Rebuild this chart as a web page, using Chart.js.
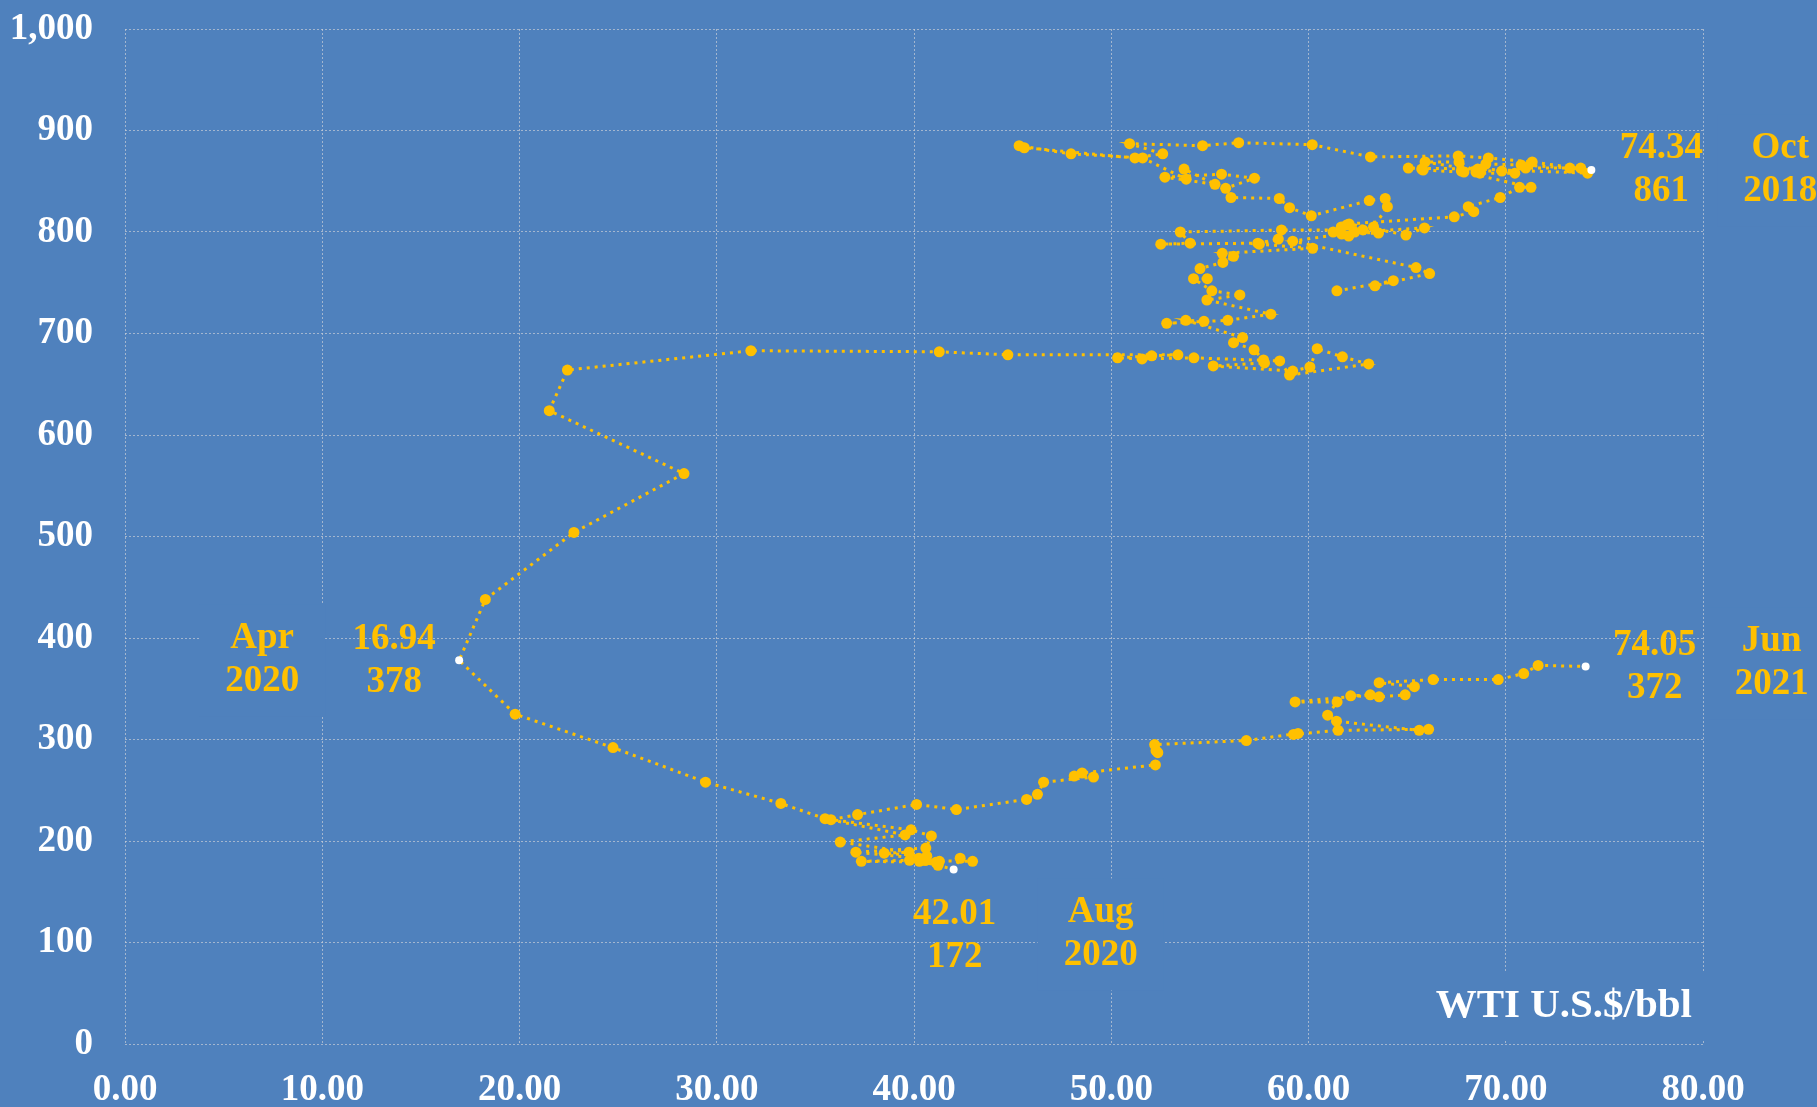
<!DOCTYPE html>
<html>
<head>
<meta charset="utf-8">
<title>US oil rigs vs WTI</title>
<script src="https://cdn.jsdelivr.net/npm/chart.js@4.4.1/dist/chart.umd.min.js"></script>
<style>
  html, body { margin: 0; padding: 0; background: #4F81BD; }
  canvas { display: block; }
</style>
</head>
<body>
<canvas id="chart" width="1817" height="1107"></canvas>
<script>
// weekly Baker Hughes oil rig count vs WTI Friday close, Jan 2018 - Jun 2021
const weeks = [
  '2018-01-05','2018-01-12','2018-01-19','2018-01-26','2018-02-02','2018-02-09','2018-02-16','2018-02-23',
  '2018-03-02','2018-03-09','2018-03-16','2018-03-23','2018-03-29','2018-04-06','2018-04-13','2018-04-20',
  '2018-04-27','2018-05-04','2018-05-11','2018-05-18','2018-05-25','2018-06-01','2018-06-08','2018-06-15',
  '2018-06-22','2018-06-29','2018-07-06','2018-07-13','2018-07-20','2018-07-27','2018-08-03','2018-08-10',
  '2018-08-17','2018-08-24','2018-08-31','2018-09-07','2018-09-14','2018-09-21','2018-09-28','2018-10-05',
  '2018-10-12','2018-10-19','2018-10-26','2018-11-02','2018-11-09','2018-11-16','2018-11-21','2018-11-30',
  '2018-12-07','2018-12-14','2018-12-21','2018-12-28',
  '2019-01-04','2019-01-11','2019-01-18','2019-01-25','2019-02-01','2019-02-08','2019-02-15','2019-02-22',
  '2019-03-01','2019-03-08','2019-03-15','2019-03-22','2019-03-29','2019-04-05','2019-04-12','2019-04-18',
  '2019-04-26','2019-05-03','2019-05-10','2019-05-17','2019-05-24','2019-05-31','2019-06-07','2019-06-14',
  '2019-06-21','2019-06-28','2019-07-05','2019-07-12','2019-07-19','2019-07-26','2019-08-02','2019-08-09',
  '2019-08-16','2019-08-23','2019-08-30','2019-09-06','2019-09-13','2019-09-20','2019-09-27','2019-10-04',
  '2019-10-11','2019-10-18','2019-10-25','2019-11-01','2019-11-08','2019-11-15','2019-11-22','2019-11-29',
  '2019-12-06','2019-12-13','2019-12-20','2019-12-27',
  '2020-01-03','2020-01-10','2020-01-17','2020-01-24','2020-01-31','2020-02-07','2020-02-14','2020-02-21',
  '2020-02-28','2020-03-06','2020-03-13','2020-03-20','2020-03-27','2020-04-03','2020-04-09','2020-04-17',
  '2020-04-24','2020-05-01','2020-05-08','2020-05-15','2020-05-22','2020-05-29','2020-06-05','2020-06-12',
  '2020-06-19','2020-06-26','2020-07-02','2020-07-10','2020-07-17','2020-07-24','2020-07-31','2020-08-07',
  '2020-08-14','2020-08-21','2020-08-28','2020-09-04','2020-09-11','2020-09-18','2020-09-25','2020-10-02',
  '2020-10-09','2020-10-16','2020-10-23','2020-10-30','2020-11-06','2020-11-13','2020-11-20','2020-11-25',
  '2020-12-04','2020-12-11','2020-12-18','2020-12-23','2020-12-31',
  '2021-01-08','2021-01-15','2021-01-22','2021-01-29','2021-02-05','2021-02-12','2021-02-19','2021-02-26',
  '2021-03-05','2021-03-12','2021-03-19','2021-03-26','2021-04-01','2021-04-09','2021-04-16','2021-04-23',
  '2021-04-30','2021-05-07','2021-05-14','2021-05-21','2021-05-28','2021-06-04','2021-06-11','2021-06-18',
  '2021-06-25'
];

const wti = [
  61.44, 64.30, 63.37, 66.14, 65.45, 59.20, 61.68, 63.55,
  61.25, 62.04, 62.34, 65.88, 64.94, 62.06, 67.39, 68.38,
  68.10, 69.72, 70.70, 71.28, 67.88, 65.81, 65.74, 65.06,
  68.58, 74.15, 73.80, 71.01, 70.46, 68.69, 68.49, 67.63,
  65.91, 68.72, 69.80, 67.75, 68.99, 70.78, 73.25, 74.34,
  71.34, 69.12, 67.59, 63.14, 60.19, 56.46, 54.63, 50.93,
  52.61, 51.20, 45.59, 45.33,
  47.96, 51.59, 53.80, 53.69, 55.26, 52.72, 55.59, 57.26,
  55.80, 56.07, 58.52, 59.04, 60.14, 63.08, 63.89, 64.00,
  63.30, 61.94, 61.66, 62.76, 58.63, 53.50, 54.00, 52.51,
  57.43, 58.47, 57.51, 60.21, 55.63, 56.20, 55.66, 54.50,
  54.87, 54.17, 55.10, 56.52, 54.85, 58.09, 55.91, 52.81,
  54.70, 53.78, 56.66, 56.20, 57.24, 57.72, 57.77, 55.17,
  59.20, 60.07, 60.44, 61.72,
  63.05, 59.04, 58.54, 54.19, 51.56, 50.32, 52.05, 53.38,
  44.76, 41.28, 31.73, 22.43, 21.51, 28.34, 22.76, 18.27,
  16.94, 19.78, 24.74, 29.43, 33.25, 35.49, 39.55, 36.26,
  39.75, 38.49, 40.65, 40.55, 40.59, 41.29, 40.27, 41.22,
  42.01, 42.34, 42.97, 39.77, 37.33, 41.11, 40.25, 37.05,
  40.60, 40.88, 39.85, 35.79, 37.14, 40.13, 42.15, 45.71,
  46.26, 46.57, 49.10, 48.12, 48.52,
  52.24, 52.36, 52.27, 52.20, 56.85, 59.47, 59.24, 61.50,
  66.09, 65.61, 61.42, 60.97, 61.45, 59.32, 63.13, 62.14,
  63.58, 64.90, 65.37, 63.58, 66.32, 69.62, 70.91, 71.64,
  74.05
];

const rigs = [
  742, 752, 747, 759, 765, 791, 798, 799,
  800, 796, 800, 804, 797, 808, 815, 820,
  825, 834, 844, 844, 859, 861, 862, 863,
  862, 858, 863, 863, 858, 858, 859, 869,
  869, 860, 860, 860, 867, 866, 863, 861,
  869, 873, 875, 874, 886, 888, 885, 887,
  877, 873, 883, 885,
  877, 873, 852, 862, 847, 854, 857, 853,
  843, 834, 833, 824, 816, 831, 833, 825,
  805, 807, 805, 802, 802, 800, 789, 788,
  789, 793, 788, 784, 779, 776, 770, 764,
  754, 754, 742, 738, 733, 719, 713, 710,
  712, 713, 696, 691, 684, 674, 671, 668,
  663, 667, 685, 677,
  670, 659, 673, 676, 675, 676, 678, 679,
  679, 682, 683, 664, 624, 562, 504, 438,
  378, 325, 292, 258, 237, 222, 206, 199,
  189, 188, 185, 181, 181, 180, 180, 176,
  172, 183, 180, 181, 180, 179, 183, 189,
  193, 205, 211, 221, 226, 236, 231, 241,
  246, 258, 263, 264, 267,
  275, 287, 289, 295, 299, 306, 305, 309,
  310, 309, 318, 324, 337, 337, 344, 343,
  342, 344, 352, 356, 359, 359, 365, 373,
  372
];

// weeks picked out with a white marker and a label
const highlightWeeks = ['2018-10-05', '2020-04-24', '2020-08-14', '2021-06-25'];
const monthNames = ['Jan','Feb','Mar','Apr','May','Jun','Jul','Aug','Sep','Oct','Nov','Dec'];
const axisTitle = 'WTI U.S.$/bbl';

const BG = '#4F81BD';
const GOLD = '#FFC000';
const GRID = 'rgba(200,205,215,0.7)';
const SERIF = "'Liberation Serif', 'Times New Roman', serif";

const points = weeks.map((w, i) => ({ x: wti[i], y: rigs[i] }));
const isHi = weeks.map(w => highlightWeeks.includes(w));

// label offsets from the highlighted point, in pixels
const notes = {
  '2018-10-05': { vdx: 70, vdy: 0, ddx: 189, ddy: 0 },
  '2020-04-24': { vdx: -65, vdy: 1, ddx: -197, ddy: 0 },
  '2020-08-14': { vdx: 1, vdy: 67, ddx: 147, ddy: 65 },
  '2021-06-25': { vdx: 69, vdy: 1, ddx: 186, ddy: -3 }
};

const labelsPlugin = {
  id: 'pointLabels',
  afterDatasetsDraw(chart) {
    const ctx = chart.ctx;
    const xs = chart.scales.x, ys = chart.scales.y;
    const lh = 43;
    ctx.save();
    ctx.textAlign = 'center';
    ctx.textBaseline = 'middle';
    highlightWeeks.forEach(w => {
      const i = weeks.indexOf(w);
      const n = notes[w];
      const px = xs.getPixelForValue(wti[i]);
      const py = ys.getPixelForValue(rigs[i]);
      const d = new Date(w + 'T00:00:00');
      const dateLines = [monthNames[d.getMonth()], String(d.getFullYear())];
      const valLines = [wti[i].toFixed(2), String(rigs[i])];

      const dx = px + n.ddx, dy = py + n.ddy;
      ctx.fillStyle = BG;
      ctx.fillRect(dx - 63, dy - 56, 126, 112);

      ctx.font = 'bold 37px ' + SERIF;
      ctx.fillStyle = GOLD;
      dateLines.forEach((t, k) => ctx.fillText(t, dx, dy + (k - 0.5) * lh));
      const vx = px + n.vdx, vy = py + n.vdy;
      valLines.forEach((t, k) => ctx.fillText(t, vx, vy + (k - 0.5) * lh));
    });

    // axis title inside the plot, bottom right
    const a = chart.chartArea;
    ctx.fillStyle = BG;
    ctx.fillRect(a.right - 285, a.bottom - 71, 293, 67);
    ctx.font = 'bold 41px ' + SERIF;
    ctx.fillStyle = '#FFFFFF';
    ctx.textAlign = 'right';
    ctx.fillText(axisTitle, a.right - 11, a.bottom - 38);
    ctx.restore();
  }
};

new Chart(document.getElementById('chart'), {
  type: 'scatter',
  data: {
    datasets: [
      {
        data: points,
        showLine: true,
        borderColor: GOLD,
        borderWidth: 3,
        borderDash: [3, 5],
        pointBackgroundColor: isHi.map(h => (h ? '#FFFFFF' : GOLD)),
        pointBorderWidth: 0,
        pointRadius: isHi.map(h => (h ? 4 : 5.5)),
        tension: 0
      }
    ]
  },
  options: {
    responsive: false,
    animation: false,
    devicePixelRatio: 1,
    layout: { padding: { top: 29, right: 114, left: 0, bottom: 0 } },
    plugins: {
      legend: { display: false },
      tooltip: { enabled: false }
    },
    scales: {
      x: {
        type: 'linear',
        min: 0,
        max: 80,
        ticks: {
          stepSize: 10,
          color: '#FFFFFF',
          padding: 24,
          maxRotation: 0,
          font: { family: SERIF, size: 37, weight: 'bold' },
          callback: v => v.toFixed(2)
        },
        grid: { color: GRID, lineWidth: 1, drawTicks: false },
        border: { display: false, dash: [2, 2] },
        afterFit: s => { s.height = 63; }
      },
      y: {
        min: 0,
        max: 1000,
        ticks: {
          stepSize: 100,
          color: '#FFFFFF',
          padding: 32,
          font: { family: SERIF, size: 37, weight: 'bold' },
          callback: v => v.toLocaleString('en-US')
        },
        grid: { color: GRID, lineWidth: 1, drawTicks: false },
        border: { display: false, dash: [2, 2] },
        afterFit: s => {
          s.width = 125;
          s.paddingTop = 0;
          s.paddingBottom = 0;
        }
      }
    }
  },
  plugins: [labelsPlugin]
});
</script>
</body>
</html>
